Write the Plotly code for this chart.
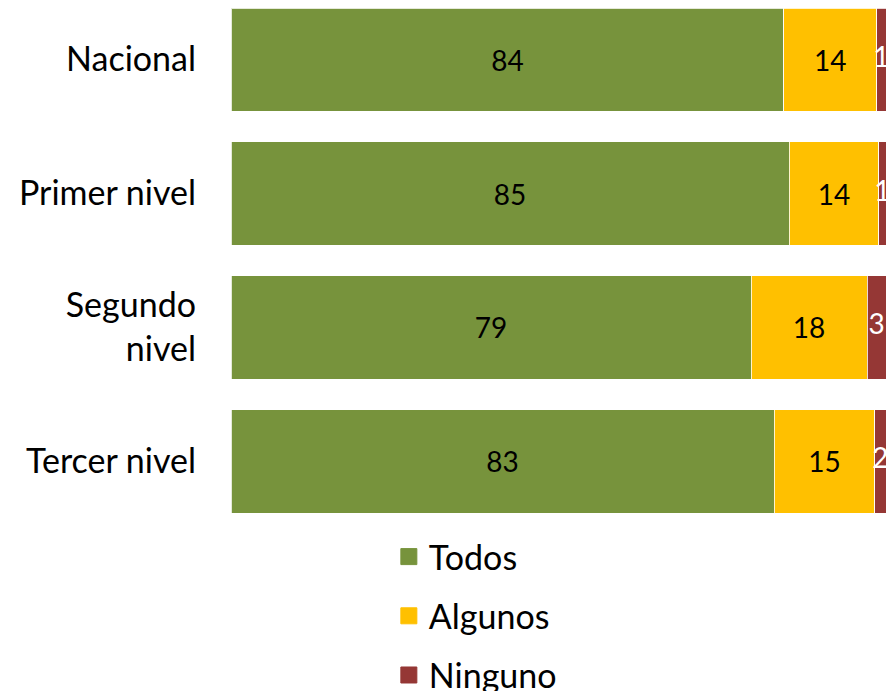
import plotly.graph_objects as go

categories = ["Nacional", "Primer nivel", "Segundo<br>nivel", "Tercer nivel"]
todos = [84.4, 85.2, 79.4, 82.9]
algunos = [14.2, 13.7, 17.7, 15.4]
ninguno = [1.4, 1.1, 2.9, 1.7]
labels_todos = ["84", "85", "79", "83"]
labels_algunos = ["14", "14", "18", "15"]
labels_ninguno = ["1", "1", "3", "2"]

series = [
    ("Todos", todos, labels_todos, "#77933C", "black"),
    ("Algunos", algunos, labels_algunos, "#FFC000", "black"),
    ("Ninguno", ninguno, labels_ninguno, "#953735", "white"),
]

FONT = "Lato"
BAR_W = 0.77
ypos = list(range(len(categories)))

fig = go.Figure()
for name, vals, labs, color, tcolor in series:
    small = name == "Ninguno"
    fig.add_trace(go.Bar(
        y=ypos, x=vals, orientation="h", name=name,
        marker=dict(color=color, line=dict(color="rgba(255,255,255,0.8)", width=1)),
        text=None if small else labs,
        textposition="none" if small else "inside",
        insidetextanchor="middle",
        textangle=0, constraintext="none",
        textfont=dict(family=FONT, size=28, color=tcolor),
        width=BAR_W, showlegend=False,
    ))
    fig.add_trace(go.Scatter(
        x=[None], y=[None], mode="markers", name=name,
        marker=dict(symbol="square", size=16, color=color,
                    line=dict(color=color, width=1)),
        legendgroup=name, showlegend=True,
    ))

# labels for the thin "Ninguno" segments, centred on each segment
mid_ninguno = [t + a + n / 2 for t, a, n in zip(todos, algunos, ninguno)]
fig.add_trace(go.Scatter(
    x=mid_ninguno, y=ypos, mode="text", text=labels_ninguno,
    textposition="middle center",
    textfont=dict(family=FONT, size=28, color="white"),
    showlegend=False, cliponaxis=False, hoverinfo="skip",
))

fig.update_layout(
    barmode="stack",
    width=896, height=691,
    margin=dict(l=223, r=18, t=0, b=186, autoexpand=False),
    paper_bgcolor="white", plot_bgcolor="white",
    font=dict(family=FONT, size=34, color="black"),
    xaxis=dict(range=[0, 100], visible=False, fixedrange=True),
    yaxis=dict(range=[3 + BAR_W / 2, -BAR_W / 2], tickvals=ypos, ticktext=categories,
               showgrid=False, zeroline=False, showline=False, automargin=False,
               ticks="", ticklabelstandoff=34,
               tickfont=dict(family=FONT, size=34, color="black")),
    legend=dict(orientation="v", x=0.241, xanchor="left", y=-0.0297, yanchor="top",
                font=dict(family=FONT, size=34, color="black"),
                tracegroupgap=12, itemclick=False),
    showlegend=True,
)

fig.write_html("out.html")
